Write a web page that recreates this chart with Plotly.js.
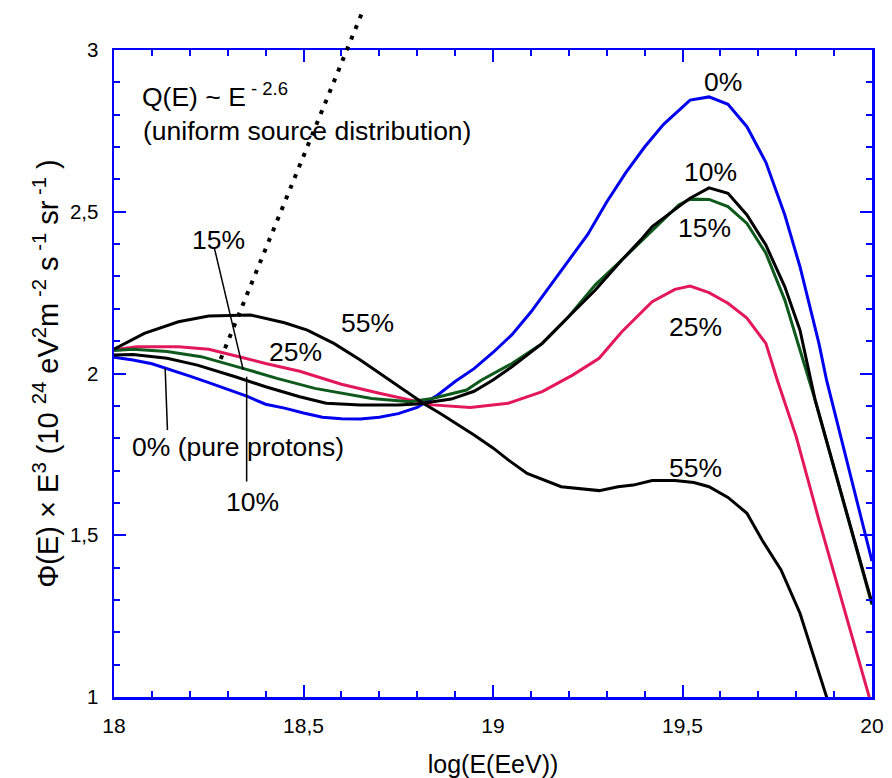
<!DOCTYPE html>
<html>
<head>
<meta charset="utf-8">
<script src="https://cdn.plot.ly/plotly-3.0.1.min.js"></script>
<style>html,body{margin:0;padding:0;background:#fff;}</style>
</head>
<body>
<div id="chart" style="width:892px;height:778px;"></div>
<script>
// ---- data ----
const x0 = [18.00,18.05,18.10,18.15,18.20,18.25,18.30,18.35,18.40,18.45,18.50,18.55,18.60,18.65,18.70,18.75,18.80,18.85,18.90,18.95,19.00,19.05,19.10,19.15,19.20,19.25,19.30,19.35,19.40,19.45,19.52,19.57,19.62,19.67,19.72,19.77,19.81,19.86,19.88,20.00];
const y0 = [2.050,2.042,2.030,2.012,1.992,1.972,1.952,1.930,1.905,1.893,1.878,1.865,1.860,1.859,1.865,1.876,1.895,1.930,1.975,2.015,2.065,2.120,2.190,2.270,2.350,2.430,2.530,2.620,2.700,2.770,2.845,2.855,2.832,2.763,2.653,2.490,2.330,2.093,1.980,1.420];

const x10 = [18.00,18.05,18.14,18.22,18.32,18.40,18.49,18.56,18.65,18.75,18.80,18.89,18.95,19.00,19.05,19.13,19.20,19.27,19.34,19.39,19.42,19.49,19.52,19.57,19.62,19.67,19.72,19.77,19.81,19.85,20.00];
const y10 = [2.057,2.059,2.047,2.026,1.990,1.959,1.928,1.908,1.903,1.903,1.906,1.921,1.945,1.980,2.021,2.093,2.176,2.258,2.351,2.413,2.454,2.516,2.542,2.574,2.557,2.490,2.397,2.268,2.134,1.918,1.290];

const x15 = [18.00,18.05,18.14,18.23,18.34,18.43,18.53,18.58,18.68,18.78,18.84,18.93,18.97,19.05,19.13,19.20,19.27,19.34,19.39,19.49,19.52,19.57,19.62,19.67,19.72,19.77,19.85,20.00];
const y15 = [2.071,2.075,2.068,2.052,2.016,1.985,1.954,1.944,1.923,1.913,1.923,1.949,1.980,2.031,2.093,2.176,2.274,2.351,2.408,2.521,2.539,2.538,2.516,2.464,2.372,2.227,1.918,1.285];

const x25 = [18.00,18.06,18.17,18.25,18.33,18.40,18.49,18.60,18.70,18.78,18.84,18.94,19.04,19.13,19.21,19.28,19.34,19.42,19.48,19.52,19.57,19.62,19.67,19.72,19.75,19.80,19.86,20.00];
const y25 = [2.073,2.083,2.083,2.075,2.052,2.031,2.007,1.967,1.939,1.918,1.903,1.895,1.908,1.944,1.995,2.047,2.129,2.222,2.260,2.270,2.250,2.217,2.171,2.093,1.980,1.805,1.547,0.970];

const x55 = [18.00,18.08,18.17,18.25,18.36,18.45,18.51,18.58,18.65,18.72,18.79,18.82,18.86,18.95,19.00,19.04,19.09,19.18,19.28,19.33,19.37,19.42,19.48,19.53,19.57,19.62,19.67,19.71,19.76,19.81,19.88,19.90];
const y55 = [2.075,2.124,2.160,2.178,2.181,2.157,2.134,2.093,2.042,1.985,1.928,1.905,1.877,1.810,1.770,1.733,1.691,1.650,1.638,1.650,1.655,1.669,1.669,1.663,1.650,1.617,1.568,1.485,1.393,1.259,1.001,0.950];

// dotted power-law reference line (two end points)
const xDot = [18.2815, 18.654];
const yDot = [2.045, 3.114];

// curve labels
const labelText = ['0%','10%','15%','25%','55%','15%','25%','55%','0% (pure protons)','10%'];
const labelX = [19.606,19.574,19.559,19.533,19.533,18.275,18.480,18.668,18.328,18.366];
const labelY = [2.902,2.624,2.449,2.145,1.707,2.413,2.067,2.155,1.774,1.604];

// leader lines [x start, y start, x end, y end]
const leaderX0 = [18.265, 18.141, 18.350];
const leaderY0 = [2.387, 1.825, 1.666];
const leaderX1 = [18.341, 18.135, 18.350];
const leaderY1 = [2.011, 2.016, 1.990];

const xTicks = [18, 18.5, 19, 19.5, 20];
const yTicks = [1, 1.5, 2, 2.5, 3];

// ---- layout geometry ----
const W = 892, H = 778;
const M = {l: 114, r: 20, t: 5, b: 81};
const plotTopPx = 50;                 // top of the framed plot area
const innerH = H - M.t - M.b;
const mainTop = (H - M.b - plotTopPx) / innerH;   // domain fraction of framed area
const xRange = [18, 20];
const yRange = [1, 3];
const y2Range = [yRange[0], yRange[0] + (yRange[1] - yRange[0]) / mainTop];

const FONT = 'Liberation Sans, Arial, Helvetica, sans-serif';
const AX = '#0000ff';
const lw = 3;
const LBL = 26.5;

const traces = [
  {x: x0, y: y0, mode: 'lines', line: {color: '#0000ee', width: lw}},
  {x: x25, y: y25, mode: 'lines', line: {color: '#e2185b', width: lw}},
  {x: x15, y: y15, mode: 'lines', line: {color: '#0d5a1c', width: lw}},
  {x: x10, y: y10, mode: 'lines', line: {color: '#000000', width: lw}},
  {x: x55, y: y55, mode: 'lines', line: {color: '#000000', width: lw}},
  {x: xDot, y: yDot, xaxis: 'x2', yaxis: 'y2', mode: 'lines',
   line: {color: '#000000', width: 4, dash: '4px,7.5px'}}
];

const annotations = labelText.map((t, i) => ({
  x: labelX[i], y: labelY[i], xref: 'x', yref: 'y', text: t, showarrow: false,
  font: {family: FONT, size: LBL, color: '#000'}, xanchor: 'center', yanchor: 'middle'
}));
annotations.push({
  x: 18.069, y: 2.862, xref: 'x', yref: 'y', showarrow: false, xanchor: 'left', yanchor: 'middle',
  text: 'Q(E) ~ E<sup> - 2.6</sup>', font: {family: FONT, size: LBL, color: '#000'}
});
annotations.push({
  x: 18.071, y: 2.750, xref: 'x', yref: 'y', showarrow: false, xanchor: 'left', yanchor: 'middle',
  text: '(uniform source distribution)', font: {family: FONT, size: LBL, color: '#000'}
});

const shapes = leaderX0.map((v, i) => ({
  type: 'line', xref: 'x', yref: 'y', x0: v, y0: leaderY0[i], x1: leaderX1[i], y1: leaderY1[i],
  line: {color: '#000', width: 1.5}
}));

const layout = {
  width: W, height: H,
  margin: M,
  paper_bgcolor: '#ffffff',
  plot_bgcolor: 'rgba(0,0,0,0)',
  showlegend: false,
  separators: ', ',
  font: {family: FONT, color: '#000'},
  xaxis: {
    range: xRange, tickvals: xTicks, ticks: 'inside', ticklen: 12, tickwidth: 2, tickcolor: AX,
    minor: {dtick: 0.1, tick0: 18, ticks: 'inside', ticklen: 6, tickwidth: 2, tickcolor: AX, showgrid: false},
    showline: true, linecolor: AX, linewidth: 2.5, mirror: 'allticks', showgrid: false, zeroline: false,
    tickfont: {family: FONT, size: 21, color: '#000'}, ticklabelstandoff: 8,
    title: {text: 'log(E(EeV))', font: {family: FONT, size: 25, color: '#000'}, standoff: 20},
    anchor: 'y', fixedrange: true
  },
  yaxis: {
    domain: [0, mainTop], range: yRange, tickvals: yTicks, ticks: 'inside', ticklen: 12, tickwidth: 2, tickcolor: AX,
    minor: {dtick: 0.1, tick0: 1, ticks: 'inside', ticklen: 6, tickwidth: 2, tickcolor: AX, showgrid: false},
    showline: true, linecolor: AX, linewidth: 2.5, mirror: 'allticks', showgrid: false, zeroline: false,
    tickfont: {family: FONT, size: 20.5, color: '#000'}, ticklabelstandoff: 9,
    title: {text: 'Φ(E) × E<sup>3</sup> (10 <sup>24</sup> eV<sup>2</sup>m<sup> -2</sup> s<sup> -1</sup> sr<sup> -1</sup> )',
            font: {family: FONT, size: 29, color: '#000'}, standoff: 3},
    anchor: 'x', fixedrange: true
  },
  xaxis2: {
    domain: [0, 1], range: xRange, visible: false, anchor: 'y2', fixedrange: true
  },
  yaxis2: {
    domain: [0, 1], range: y2Range, visible: false, anchor: 'x2', fixedrange: true
  },
  annotations: annotations,
  shapes: shapes
};

Plotly.newPlot('chart', traces, layout, {displayModeBar: false, staticPlot: true});
</script>
</body>
</html>
